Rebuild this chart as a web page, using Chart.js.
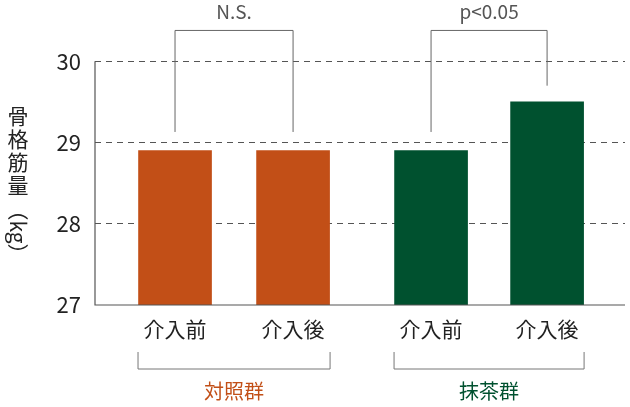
<!DOCTYPE html><html><head><meta charset="utf-8">
<script src="https://cdn.jsdelivr.net/npm/chart.js@4"></script>
<style>body{margin:0;background:#fff}#w{width:630px;height:407px}</style></head><body><div id="w"><canvas id="c"></canvas></div>
<script>
const categories=["介入前","介入後","介入前","介入後"];
const groups=["対照群","抹茶群"];
const values=[28.9,28.9,28.9,29.5];
const xpos=[0.678,1.678,2.847,3.83];
const yTicks=[27,28,29,30];
const sigLabels=["N.S.","p<0.05"];
const colors=["#C24F17","#C24F17","#00512F","#00512F"];
const groupColors=["#C24F17","#00512F"];
const F='"Noto Sans CJK JP","Noto Sans",sans-serif';
const deco={id:'deco',afterDraw(ch){
 const c=ch.ctx,x=ch.scales.x,y=ch.scales.y,a=ch.chartArea;
 c.save();
 c.strokeStyle='#555';c.lineWidth=1.2;
 c.beginPath();c.moveTo(a.left,y.getPixelForValue(30));c.lineTo(a.left,y.getPixelForValue(27));c.lineTo(a.right,y.getPixelForValue(27));c.stroke();
 c.strokeStyle='#666';c.lineWidth=1;
 const br=[[0,1,29.13,29.13],[2,3,29.13,29.7]];
 br.forEach((b,i)=>{const x1=x.getPixelForValue(xpos[b[0]]),x2=x.getPixelForValue(xpos[b[1]]),yt=y.getPixelForValue(30.38);
  c.beginPath();c.moveTo(x1,y.getPixelForValue(b[2]));c.lineTo(x1,yt);c.lineTo(x2,yt);c.lineTo(x2,y.getPixelForValue(b[3]));c.stroke();
  c.fillStyle='#555';c.font='19px '+F;c.textAlign='center';c.textBaseline='middle';c.fillText(sigLabels[i],(x1+x2)/2,12);});
 c.fillStyle='#222';c.font='21px '+F;c.textAlign='center';c.textBaseline='middle';
 categories.forEach((t,i)=>c.fillText(t,x.getPixelForValue(xpos[i]),329));
 [[0,1],[2,3]].forEach((g,i)=>{const x1=x.getPixelForValue(xpos[g[0]])-37,x2=x.getPixelForValue(xpos[g[1]])+37;
  c.strokeStyle='#777';c.beginPath();c.moveTo(x1,352);c.lineTo(x1,369);c.lineTo(x2,369);c.lineTo(x2,352);c.stroke();
  c.fillStyle=groupColors[i];c.font='20px '+F;c.fillText(groups[i],(x1+x2)/2,391);});
 c.fillStyle='#222';c.font='21px '+F;
 ['骨','格','筋','量'].forEach((t,i)=>c.fillText(t,18,116+i*23));
 c.save();c.translate(18,232);c.rotate(Math.PI/2);c.fillText('（kg）',0,0);c.restore();
 c.restore();}};
new Chart(document.getElementById('c'),{type:'bar',
 data:{datasets:[{data:values.map((v,i)=>({x:xpos[i],y:v})),backgroundColor:colors,barThickness:73}]},
 options:{responsive:true,maintainAspectRatio:false,animation:false,
  layout:{padding:{top:0,right:5,bottom:102,left:0}},
  plugins:{legend:{display:false},tooltip:{enabled:false}},
  scales:{x:{type:'linear',offset:false,min:0,max:4.49,display:false},
   y:{min:27,max:30.42,afterFit:s=>{s.width=95},afterBuildTicks:s=>{s.ticks=yTicks.map(v=>({value:v}))},
    border:{display:false,dash:[6,5]},
    grid:{color:c=>c.tick.value===27?'rgba(0,0,0,0)':'#555',lineWidth:1,drawTicks:false},
    ticks:{color:'#222',font:{size:22,family:F},padding:14}}}},
 plugins:[deco]});
</script></body></html>
